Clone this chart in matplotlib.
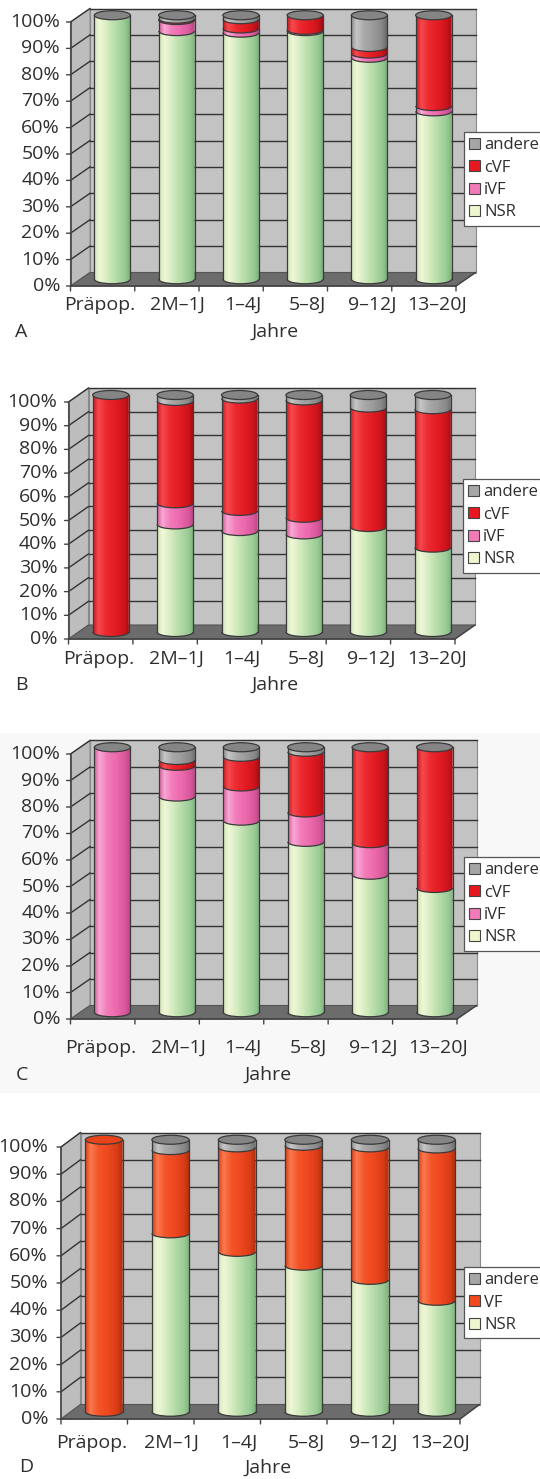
import numpy as np
import matplotlib
matplotlib.use('Agg')
import matplotlib.pyplot as plt
from matplotlib.patches import Polygon, Ellipse, PathPatch, Rectangle, Patch, Arc
from matplotlib.path import Path
from matplotlib.colors import LinearSegmentedColormap
from matplotlib.transforms import offset_copy

plt.rcParams['font.family'] = ['Open Sans', 'DejaVu Sans']

# ---------------- data ----------------
categories = ['Präpop.', '2M–1J', '1–4J', '5–8J', '9–12J', '13–20J']
y_ticks = [0, 10, 20, 30, 40, 50, 60, 70, 80, 90, 100]
y_tick_labels = ['0%', '10%', '20%', '30%', '40%', '50%', '60%', '70%', '80%', '90%', '100%']
x_title = 'Jahre'
panel_letters = ['A', 'B', 'C', 'D']

# Panel A
a_nsr = [100, 94.0, 93.4, 94.0, 83.9, 63.6]
a_ivf = [0, 4.2, 1.6, 0.5, 1.6, 2.0]
a_cvf = [0, 0.5, 3.5, 5.5, 2.5, 34.4]
a_andere = [0, 1.3, 1.5, 0, 12.0, 0]

# Panel B
b_nsr = [0, 45.4, 42.6, 41.2, 44.3, 35.6]
b_ivf = [0, 8.9, 8.5, 7.0, 0, 0]
b_cvf = [100, 43.2, 47.4, 49.5, 50.4, 58.4]
b_andere = [0, 2.5, 1.5, 2.3, 5.3, 6.0]

# Panel C
c_nsr = [0, 81.4, 72.3, 64.3, 51.9, 46.9]
c_ivf = [100, 11.6, 12.9, 11.1, 11.9, 0]
c_cvf = [0, 2.2, 11.2, 22.9, 36.2, 53.1]
c_andere = [0, 4.8, 3.6, 1.7, 0, 0]

# Panel D (no "andere" value for Präpop.)
d_nsr = [0, 65.6, 58.8, 53.7, 48.5, 40.8]
d_vf = [100, 30.6, 38.4, 44.1, 48.7, 56.0]
d_andere = [None, 3.8, 2.8, 2.2, 2.8, 3.2]

panels_series = [
    [('NSR', a_nsr), ('iVF', a_ivf), ('cVF', a_cvf), ('andere', a_andere)],
    [('NSR', b_nsr), ('iVF', b_ivf), ('cVF', b_cvf), ('andere', b_andere)],
    [('NSR', c_nsr), ('iVF', c_ivf), ('cVF', c_cvf), ('andere', c_andere)],
    [('NSR', d_nsr), ('VF', d_vf), ('andere', d_andere)],
]

# ---------------- styling ----------------
GRAD_POS = [0, 0.15, 0.35, 0.6, 0.85, 1]
GRAD = {
    'NSR': ['#cfe4b2', '#f0f7d8', '#d8edc2', '#b6dcaa', '#9acb96', '#7cb07a'],
    'iVF': ['#d65a9a', '#f8a8d4', '#f27cba', '#ec6aae', '#d8589c', '#b64484'],
    'cVF': ['#d21820', '#f44a4e', '#ec2a30', '#e41c24', '#cc141c', '#a00c12'],
    'andere': ['#8a8a8a', '#c6c6c6', '#ababab', '#9c9c9c', '#888888', '#6a6a6a'],
    'VF': ['#dc3c14', '#fa7a50', '#f45428', '#ee4820', '#d83c16', '#ae2e0c'],
}
LEG = {'NSR': '#eef6cf', 'iVF': '#f27ab8', 'cVF': '#e81820', 'andere': '#a6a6a6', 'VF': '#f04a1e'}
CAP = {'NSR': '#b6dcaa', 'iVF': '#e868a8', 'cVF': '#d81c22', 'andere': '#858585', 'VF': '#e8441a'}
CMAPS = {k: LinearSegmentedColormap.from_list(k, list(zip(GRAD_POS, v))) for k, v in GRAD.items()}

EDGE = '#3a3a3a'
TXT = '#2e2e2e'
FS = 14
LEG_FS = 12

layout = [
    dict(x0=70.5, x1=456, y0=286, y100=22, dx=19.5, dy=13.5, ytl=-10.5, lab_dy=19,
         jahre=(275, 332), letter=(15, 332), legend=(464, 132)),
    dict(x0=68.5, x1=455, y0=639, y100=402, dx=20, dy=14, ytl=-11, lab_dy=20,
         jahre=(275, 685), letter=(15, 685), legend=(463, 479)),
    dict(x0=70.5, x1=457, y0=1019, y100=754, dx=19.5, dy=13.5, ytl=-10.5, lab_dy=29,
         jahre=(268, 1075), letter=(16, 1075), legend=(464, 857)),
    dict(x0=61, x1=460, y0=1419, y100=1147, dx=19.5, dy=14.5, ytl=-13, lab_dy=24,
         jahre=(268, 1468), letter=(19, 1467), legend=(464, 1267)),
]
label_shift = [-0.19, 0.02, 0.03, 0.04, 0.05, 0.06]
BAR_W = 0.56
ELL_PX = 4.5

W_PX, H_PX = 540, 1479
fig = plt.figure(figsize=(W_PX / 100, H_PX / 100), dpi=100)

# faint background of panel C
fig.patches.append(Rectangle((0, 1 - 1093 / H_PX), 1, (1093 - 733) / H_PX,
                             transform=fig.transFigure, facecolor='#f8f8f8',
                             edgecolor='none', zorder=-10))

grad_img = np.linspace(0, 1, 256).reshape(1, -1)


def seg_path(cx, w, yb, yt, eh):
    t = np.linspace(np.pi, 2 * np.pi, 50)
    xs = cx + w / 2 * np.cos(t)
    ys = yb + eh * np.sin(t)
    verts = list(zip(xs, ys)) + [(cx + w / 2, yt), (cx - w / 2, yt), (cx - w / 2, yb)]
    return Path(verts)


for p, (L, series) in enumerate(zip(layout, panels_series)):
    sx = (L['x1'] - L['x0']) / 6.0
    sy = (L['y0'] - L['y100']) / 100.0
    DX = L['dx'] / sx
    DY = L['dy'] / sy
    xmin, xmax = -0.5, 6 + DX + 0.3
    ymin, ymax = -8, 100 + DY + 6
    left = L['x0'] + xmin * sx
    right = L['x0'] + xmax * sx
    bottom = L['y0'] - ymin * sy
    top = L['y0'] - ymax * sy
    ax = fig.add_axes([left / W_PX, 1 - bottom / H_PX, (right - left) / W_PX, (bottom - top) / H_PX])
    ax.set_axis_off()

    # walls
    ax.add_patch(Polygon([(DX, DY), (6 + DX, DY), (6 + DX, 100 + DY), (DX, 100 + DY)],
                         closed=True, facecolor='#c3c3c3', edgecolor='#8a8a8a', lw=0.8, zorder=0))
    ax.add_patch(Polygon([(0, 0), (DX, DY), (DX, 100 + DY), (0, 100)],
                         closed=True, facecolor='#bdbdbd', edgecolor='#8a8a8a', lw=0.8, zorder=0))
    ax.add_patch(Polygon([(0, 0), (6, 0), (6 + DX, DY), (DX, DY)],
                         closed=True, facecolor='#6c6c6c', edgecolor='#555555', lw=0.8, zorder=1))
    for v in y_ticks[1:]:
        ax.plot([DX, 6 + DX], [v + DY, v + DY], color='#333333', lw=1.0, zorder=0.5)
        ax.plot([0, DX], [v, v + DY], color='#333333', lw=1.0, zorder=0.5)
    # axes lines and ticks
    ax.plot([0, 0], [0, 100], color='#444444', lw=1.2, zorder=1.5)
    ax.plot([0, 6], [0, 0], color='#444444', lw=1.2, zorder=1.5)
    ax.plot([6, 6 + DX], [0, DY], color='#444444', lw=1.0, zorder=1.5)
    for v in y_ticks:
        ax.annotate('', xy=(0, v), xytext=(-4, 0), textcoords='offset pixels',
                    arrowprops=dict(arrowstyle='-', color='#444444', lw=1.0,
                                    shrinkA=0, shrinkB=0))
    for k in range(7):
        ax.annotate('', xy=(k, 0), xytext=(0, -5), textcoords='offset pixels',
                    arrowprops=dict(arrowstyle='-', color='#444444', lw=1.0,
                                    shrinkA=0, shrinkB=0))

    # tick labels
    ytr = offset_copy(ax.transData, fig=fig, x=L['ytl'], y=0, units='dots')
    for v, lab in zip(y_ticks, y_tick_labels):
        ax.text(0, v, lab, transform=ytr, ha='right', va='center', fontsize=FS, color=TXT)
    xtr = offset_copy(ax.transData, fig=fig, x=0, y=-L['lab_dy'], units='dots')
    for i, cat in enumerate(categories):
        ax.text(i + 0.5 + DX / 2 + label_shift[i], 0, cat, transform=xtr,
                ha='center', va='center', fontsize=FS, color=TXT)

    # cylinders
    eh = ELL_PX / sy
    for i in range(len(categories)):
        cx = i + 0.5 + DX / 2
        base = DY / 2
        acc = 0.0
        top_name = None
        present = []
        for name, vals in series:
            v = vals[i]
            if v is None:
                continue
            present.append(name)
            if v <= 0:
                continue
            yb, yt = base + acc, base + acc + v
            zo = 3 + acc / 1000.0
            clip = PathPatch(seg_path(cx, BAR_W, yb, yt, eh), facecolor='none',
                             edgecolor='none', transform=ax.transData)
            ax.add_patch(clip)
            im = ax.imshow(grad_img, extent=[cx - BAR_W / 2, cx + BAR_W / 2, yb - eh, yt],
                           aspect='auto', cmap=CMAPS[name], vmin=0, vmax=1,
                           interpolation='bilinear', zorder=zo)
            im.set_clip_path(clip)
            ax.add_patch(Arc((cx, yb), BAR_W, 2 * eh, theta1=180, theta2=360,
                             color=EDGE, lw=0.9, zorder=zo + 0.0005))
            acc += v
            top_name = name
        ytop = base + acc
        ax.plot([cx - BAR_W / 2, cx - BAR_W / 2], [base, ytop], color=EDGE, lw=0.9, zorder=4)
        ax.plot([cx + BAR_W / 2, cx + BAR_W / 2], [base, ytop], color=EDGE, lw=0.9, zorder=4)
        cap_name = present[-1] if present else top_name
        ax.add_patch(Ellipse((cx, ytop), BAR_W, 2 * eh, facecolor=CAP[cap_name],
                             edgecolor=EDGE, lw=0.9, zorder=4.1))

    ax.set_xlim(xmin, xmax)
    ax.set_ylim(ymin, ymax)

    # legend
    names = [n for n, _ in series][::-1]
    handles = [Patch(facecolor=LEG[n], edgecolor='#444444', lw=0.8) for n in names]
    lx, ly = L['legend']
    leg = fig.legend(handles, names, loc='upper left',
                     bbox_to_anchor=(lx / W_PX, 1 - ly / H_PX), bbox_transform=fig.transFigure,
                     fontsize=LEG_FS, handlelength=0.66, handleheight=0.66, handletextpad=0.22,
                     labelspacing=0.38, borderpad=0.32, borderaxespad=0, frameon=True,
                     fancybox=False, edgecolor='#555555', framealpha=1)
    leg.get_frame().set_linewidth(0.9)
    for t in leg.get_texts():
        t.set_color(TXT)

    fig.text(L['jahre'][0] / W_PX, 1 - L['jahre'][1] / H_PX, x_title, ha='center', va='center',
             fontsize=FS, color=TXT)
    fig.text(L['letter'][0] / W_PX, 1 - L['letter'][1] / H_PX, panel_letters[p], ha='left',
             va='center', fontsize=FS, color=TXT)

fig.savefig('out.png', dpi=100)
